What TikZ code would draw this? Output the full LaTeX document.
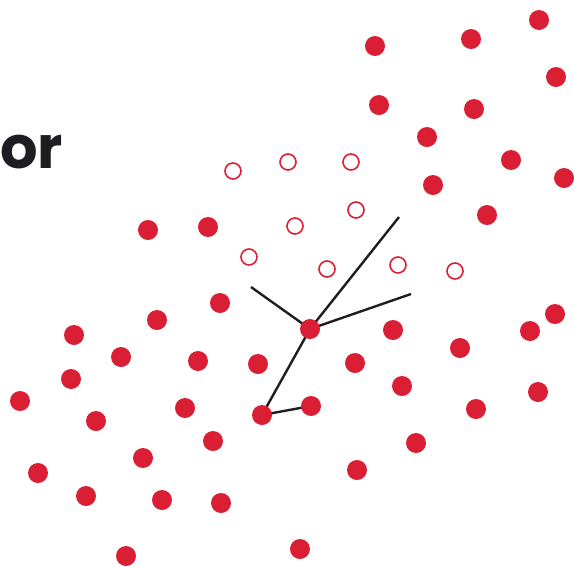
\documentclass[tikz,border=0pt]{standalone}
\usepackage{fontspec}
\setmainfont{Poppins}
\definecolor{dotred}{RGB}{218,30,52}
\definecolor{inkdark}{RGB}{30,30,34}
\tikzset{
  full/.style={circle,fill=dotred,draw=none,minimum size=20pt,inner sep=0pt},
  hollow/.style={circle,draw=dotred,line width=1.6pt,fill=none,minimum size=16pt,inner sep=0pt},
  link/.style={draw=inkdark,line width=2.4pt},
}
\begin{document}
\begin{tikzpicture}[x=1pt,y=-1pt]
\clip (0,0) rectangle (574,566);
\useasboundingbox (0,0) rectangle (574,566);
\node[anchor=base west,inner sep=0pt,text=inkdark,font=\fontsize{59}{64}\selectfont\bfseries] (title) at (0,168) {or};
% filled dots
\foreach \x/\y [count=\i] in {375/46,471/39,539/20,556/77,379/105,474/109,427/137,511/160,564/178,433/185,487/215,148/230,208/227,220/303,157/320,74/335,121/357,71/379,198/361,258/364,393/330,460/348,530/331,555/314,355/363,402/386,538/392,476/409,20/401,96/421,185/408,213/441,143/458,416/443,357/470,38/473,86/496,162/500,221/503,126/556,300/549}
  \node[full] (f\i) at (\x,\y) {};
% hollow
\foreach \x/\y [count=\i] in {233/171,288/162,351/162,356/210,295/226,249/257,327/269,398/265,455/271}
  \node[hollow] (h\i) at (\x,\y) {};
\coordinate (e1) at (251,287);
\coordinate (e2) at (399,217);
\coordinate (e3) at (411,294);
\path[link] (310,329) -- (e1);
\path[link] (310,329) -- (e2);
\path[link] (310,329) -- (e3);
\path[link] (310,329) -- (262,415) -- (311,406);
\node[full] (c) at (310,329) {};
\node[full] (a) at (262,415) {};
\node[full] (b) at (311,406) {};
\end{tikzpicture}
\end{document}
